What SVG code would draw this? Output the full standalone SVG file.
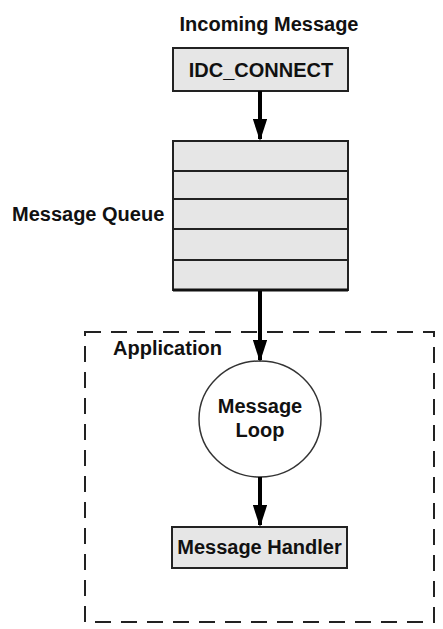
<svg xmlns="http://www.w3.org/2000/svg" width="443" height="629" viewBox="0 0 443 629">
<defs>
<style>
text{font-family:"Liberation Sans",Arial,sans-serif;font-weight:bold;font-size:20px;fill:#111}
.box{fill:#e6e6e6;stroke:#222;stroke-width:2}
.arrow{stroke:#000;stroke-width:4;fill:none;marker-end:url(#ah)}
</style>
<marker id="ah" markerWidth="5.5" markerHeight="3.6" refX="5" refY="1.8" orient="auto" markerUnits="strokeWidth">
<path d="M0,0 L5.5,1.8 L0,3.6 Z" fill="#000"/>
</marker>
</defs>
<rect width="443" height="629" fill="#fff"/>
<g id="incoming">
<text x="269" y="31" text-anchor="middle">Incoming Message</text>
<rect class="box" x="173" y="48" width="175" height="43"/>
<text x="261" y="77" text-anchor="middle">IDC_CONNECT</text>
</g>
<g id="queue">
<rect class="box" x="173" y="141" width="175" height="30"/>
<rect class="box" x="173" y="171" width="175" height="28"/>
<rect class="box" x="173" y="199" width="175" height="30"/>
<rect class="box" x="173" y="229" width="175" height="31"/>
<rect class="box" x="173" y="260" width="175" height="30"/>
<line x1="173" y1="290" x2="348" y2="290" stroke="#111" stroke-width="3"/>
<text x="12" y="221">Message Queue</text>
</g>
<g id="application">
<rect x="85" y="332" width="349" height="290" fill="none" stroke="#222" stroke-width="2" stroke-dasharray="16,10"/>
<text x="113" y="355">Application</text>
</g>
<g id="loop">
<ellipse cx="260" cy="419" rx="61" ry="58" fill="#fff" stroke="#333" stroke-width="1.5"/>
<text x="260" y="413" text-anchor="middle">Message</text>
<text x="260" y="437" text-anchor="middle">Loop</text>
</g>
<g id="handler">
<rect class="box" x="172" y="527" width="175" height="41"/>
<text x="259.5" y="554" text-anchor="middle">Message Handler</text>
</g>
<g id="connectors">
<line class="arrow" x1="260" y1="91" x2="260" y2="139"/>
<line class="arrow" x1="260" y1="291" x2="260" y2="360"/>
<line class="arrow" x1="260" y1="477" x2="260" y2="525"/>
</g>
</svg>
